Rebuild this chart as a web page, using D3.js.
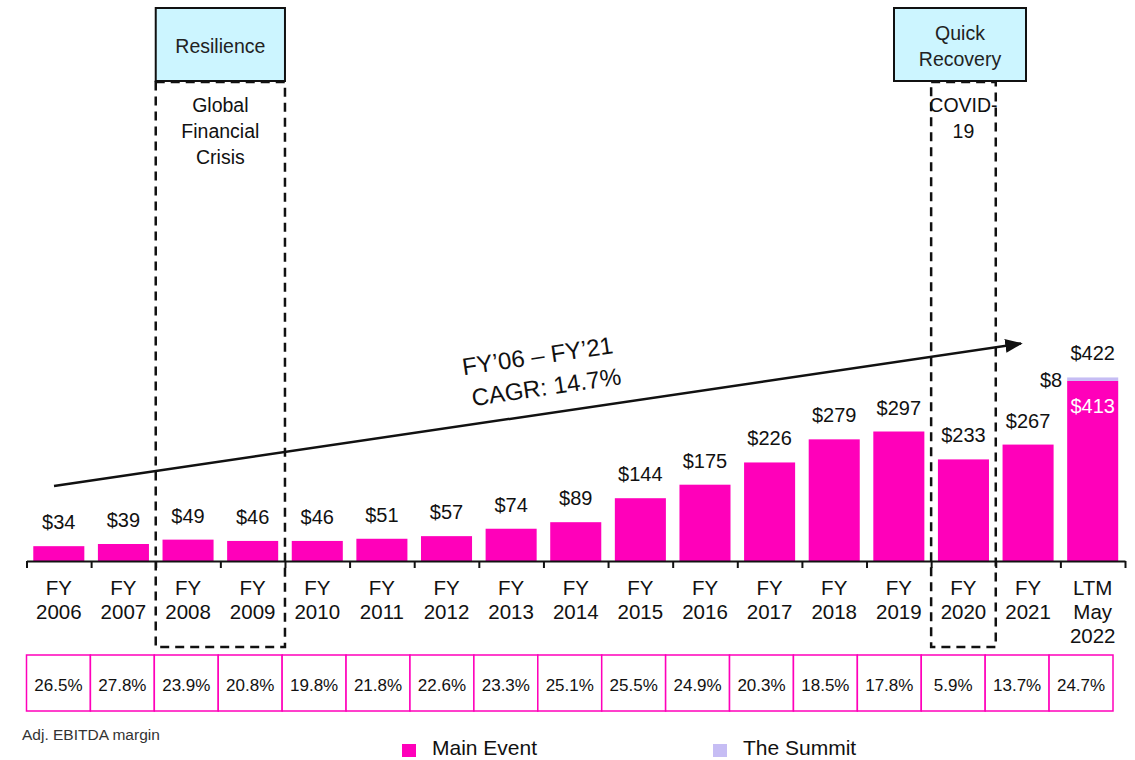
<!DOCTYPE html>
<html>
<head>
<meta charset="utf-8">
<script src="https://cdn.jsdelivr.net/npm/d3@7"></script>
<style>
  html, body { margin: 0; padding: 0; background: #fff; }
  svg { display: block; font-family: "Liberation Sans", Arial, sans-serif; }
</style>
</head>
<body>
<svg id="chart" width="1135" height="760"></svg>
<script>
// Adj. EBITDA ($M) by fiscal period
const periods = ["FY2006","FY2007","FY2008","FY2009","FY2010","FY2011","FY2012","FY2013","FY2014","FY2015","FY2016","FY2017","FY2018","FY2019","FY2020","FY2021","LTM May 2022"];
const periodLabels = [["FY","2006"],["FY","2007"],["FY","2008"],["FY","2009"],["FY","2010"],["FY","2011"],["FY","2012"],["FY","2013"],["FY","2014"],["FY","2015"],["FY","2016"],["FY","2017"],["FY","2018"],["FY","2019"],["FY","2020"],["FY","2021"],["LTM","May","2022"]];
const mainEvent = [34, 39, 49, 46, 46, 51, 57, 74, 89, 144, 175, 226, 279, 297, 233, 267, 413];
const theSummit = [0, 0, 0, 0, 0, 0, 0, 0, 0, 0, 0, 0, 0, 0, 0, 0, 8];
const totals = [34, 39, 49, 46, 46, 51, 57, 74, 89, 144, 175, 226, 279, 297, 233, 267, 422];
const margins = ["26.5%","27.8%","23.9%","20.8%","19.8%","21.8%","22.6%","23.3%","25.1%","25.5%","24.9%","20.3%","18.5%","17.8%","5.9%","13.7%","24.7%"];
const seriesNames = ["Main Event", "The Summit"];
const highlights = [
  { from: "FY2008", to: "FY2009", header: ["Resilience"], note: ["Global", "Financial", "Crisis"] },
  { from: "FY2020", to: "FY2020", header: ["Quick", "Recovery"], note: ["COVID-", "19"] }
];
const cagrLines = ["FY\u201906 \u2013 FY\u201921", "CAGR: 14.7%"];

const PINK = "#FF00BA";
const LAVENDER = "#C6BDF4";
const CYAN = "#CCF5FF";
const INK = "#111";

const svg = d3.select("#chart");
const baseY = 561;

const x = d3.scaleBand().domain(periods).range([26.5, 1125]).paddingInner(0.21).paddingOuter(0.105);
const idx = d3.scaleLinear().domain([0, periods.length]).range([26.5, 1125]);
const y = d3.scaleLinear().domain([0, 422]).range([baseY, 377]);
const tableX = d3.scaleBand().domain(periods).range([26.5, 1113]);

// Dashed frames around the highlighted periods
highlights.forEach(h => {
  const x0 = idx(periods.indexOf(h.from));
  const x1 = idx(periods.indexOf(h.to) + 1);
  svg.append("rect")
    .attr("x", x0).attr("y", 82).attr("width", x1 - x0).attr("height", 647 - 82)
    .attr("fill", "none").attr("stroke", INK).attr("stroke-width", 2.5)
    .attr("stroke-dasharray", "9,6");
});

// Stacked bars
const stack = periods.map((p, i) => ({ p, main: mainEvent[i], summit: theSummit[i], total: totals[i] }));
const g = svg.append("g");
g.selectAll("rect.main").data(stack).join("rect").attr("class", "main")
  .attr("x", d => x(d.p)).attr("width", x.bandwidth())
  .attr("y", d => y(d.main)).attr("height", d => y(0) - y(d.main))
  .attr("fill", PINK);
g.selectAll("rect.summit").data(stack.filter(d => d.summit > 0)).join("rect").attr("class", "summit")
  .attr("x", d => x(d.p)).attr("width", x.bandwidth())
  .attr("y", d => y(d.main + d.summit)).attr("height", d => y(d.main) - y(d.main + d.summit))
  .attr("fill", LAVENDER);

// Value labels
g.selectAll("text.val").data(stack).join("text").attr("class", "val")
  .attr("x", d => x(d.p) + x.bandwidth() / 2)
  .attr("y", d => y(d.summit > 0 ? d.main + d.summit : d.main) - 17)
  .attr("text-anchor", "middle").attr("font-size", 20).attr("fill", INK)
  .text(d => "$" + d.total);
stack.filter(d => d.summit > 0).forEach(d => {
  g.append("text").attr("x", x(d.p) + x.bandwidth() / 2).attr("y", y(d.main) + 32)
    .attr("text-anchor", "middle").attr("font-size", 20).attr("fill", "#fff").text("$" + d.main);
  g.append("text").attr("x", x(d.p) - 5).attr("y", y(d.main + d.summit) + 10)
    .attr("text-anchor", "end").attr("font-size", 20).attr("fill", INK).text("$" + d.summit);
});

// Axis with ticks at band boundaries
const axis = svg.append("g").attr("transform", `translate(0,${baseY})`)
  .call(d3.axisBottom(idx).tickValues(d3.range(periods.length + 1)).tickSize(7).tickSizeOuter(0).tickFormat(""));
axis.select(".domain").attr("stroke", INK).attr("stroke-width", 2);
axis.selectAll(".tick line").attr("stroke", INK).attr("stroke-width", 2);

// Category labels
periods.forEach((p, i) => {
  const t = svg.append("text").attr("x", x(p) + x.bandwidth() / 2).attr("y", 595)
    .attr("text-anchor", "middle").attr("font-size", 20.5).attr("fill", INK);
  periodLabels[i].forEach((line, k) => {
    t.append("tspan").attr("x", x(p) + x.bandwidth() / 2).attr("dy", k === 0 ? 0 : 24).text(line);
  });
});

// Highlight headers and notes
highlights.forEach(h => {
  const x0 = idx(periods.indexOf(h.from));
  const x1 = idx(periods.indexOf(h.to) + 1);
  const cx = (x0 + x1) / 2;
  const hx0 = h.header.length > 1 ? 894 : x0;
  const hx1 = h.header.length > 1 ? 1026 : x1;
  svg.append("rect").attr("x", hx0).attr("y", 8).attr("width", hx1 - hx0).attr("height", 73)
    .attr("fill", CYAN).attr("stroke", INK).attr("stroke-width", 2);
  const hc = (hx0 + hx1) / 2;
  const startY = h.header.length > 1 ? 40 : 53;
  h.header.forEach((line, k) => {
    svg.append("text").attr("x", hc).attr("y", startY + k * 26)
      .attr("text-anchor", "middle").attr("font-size", 19.5).attr("fill", "#222").text(line);
  });
  h.note.forEach((line, k) => {
    svg.append("text").attr("x", cx).attr("y", 112 + k * 26)
      .attr("text-anchor", "middle").attr("font-size", 19.5).attr("fill", INK).text(line);
  });
});

// CAGR arrow
const defs = svg.append("defs");
defs.append("marker").attr("id", "arrowHead").attr("viewBox", "0 0 10 10")
  .attr("refX", 9).attr("refY", 5).attr("markerWidth", 7).attr("markerHeight", 7)
  .attr("markerUnits", "strokeWidth").attr("orient", "auto")
  .append("path").attr("d", "M0,1 L10,5 L0,9 Z").attr("fill", INK);
const a0 = [54, 486], a1 = [1025, 343];
svg.append("line").attr("x1", a0[0]).attr("y1", a0[1]).attr("x2", a1[0] - 4).attr("y2", a1[1] + 0.6)
  .attr("stroke", INK).attr("stroke-width", 2.5).attr("marker-end", "url(#arrowHead)");
const ang = Math.atan2(a1[1] - a0[1], a1[0] - a0[0]) * 180 / Math.PI;
const cag = svg.append("g").attr("transform", `translate(540,372) rotate(${ang})`);
cagrLines.forEach((line, k) => {
  cag.append("text").attr("x", k === 0 ? 0 : 4).attr("y", k === 0 ? -8 : 24)
    .attr("text-anchor", "middle").attr("font-size", 24).attr("fill", INK).text(line);
});

// Margin table
const table = svg.append("g");
table.selectAll("rect").data(periods).join("rect")
  .attr("x", d => tableX(d)).attr("y", 655).attr("width", tableX.bandwidth()).attr("height", 56)
  .attr("fill", "#fff").attr("stroke", PINK).attr("stroke-width", 1.5);
table.selectAll("text").data(periods).join("text")
  .attr("x", d => tableX(d) + tableX.bandwidth() / 2).attr("y", 691)
  .attr("text-anchor", "middle").attr("font-size", 17).attr("fill", INK)
  .text((d, i) => margins[i]);

svg.append("text").attr("x", 22).attr("y", 740).attr("font-size", 15.5).attr("fill", "#333").text("Adj. EBITDA margin");

// Legend
const legend = svg.append("g");
[[402, PINK], [713, LAVENDER]].forEach(([lx, c], i) => {
  legend.append("rect").attr("x", lx).attr("y", 744).attr("width", 14).attr("height", 13).attr("fill", c);
  legend.append("text").attr("x", lx + 30).attr("y", 755).attr("font-size", 21).attr("fill", INK).text(seriesNames[i]);
});
</script>
</body>
</html>
